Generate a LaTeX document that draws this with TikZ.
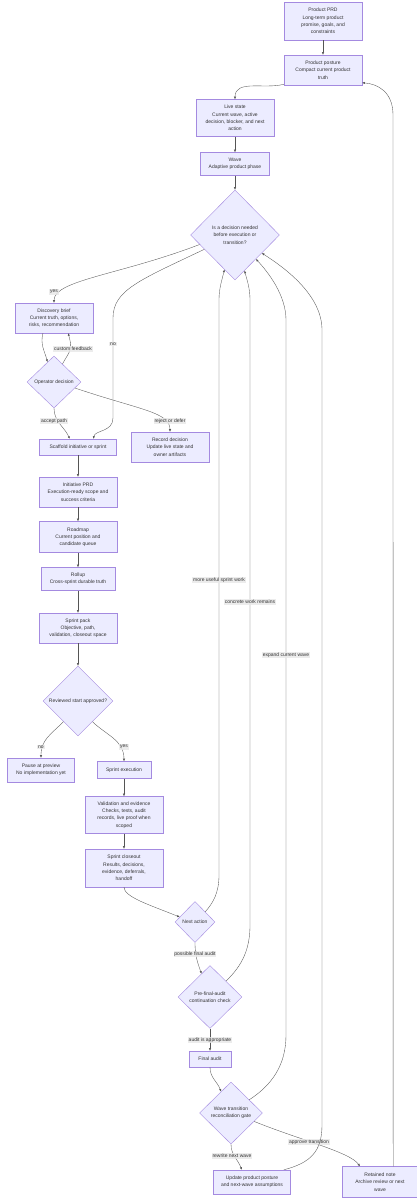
\documentclass[tikz,border=0pt]{standalone}
\usepackage{fontspec}
\setmainfont{Liberation Sans}
\usepackage{tikz}
\usetikzlibrary{arrows.meta,shapes.geometric}
\usepackage{xcolor}
\tikzset{>={Latex[length=2.6pt,width=2.2pt]}}
\definecolor{mmfill}{HTML}{ECECFF}
\definecolor{mmstroke}{HTML}{A48AE0}
\definecolor{mmline}{HTML}{555555}
\definecolor{mmtext}{HTML}{333333}
\definecolor{mmlbl}{HTML}{E8E8E8}

\begin{document}
\begin{tikzpicture}[x=1pt,y=1pt]
                % boxes in pt, y goes down the page as negative values
                \tikzstyle{box}=[rectangle, draw=mmstroke, fill=mmfill, line width=0.4pt, align=center, inner sep=0pt, text=mmtext, font=\fontsize{5pt}{7.3pt}\selectfont]
                \tikzstyle{gate}=[diamond, draw=mmstroke, fill=mmfill, line width=0.4pt, align=center, inner sep=0pt, text=mmtext, font=\fontsize{5pt}{7.3pt}\selectfont]
                \tikzstyle{lbl}=[fill=mmlbl, fill opacity=0.8, text opacity=1, inner sep=0.8pt, text=mmtext, font=\fontsize{5pt}{6pt}\selectfont]
                \tikzstyle{flow}=[->, draw=mmline, line width=0.35pt]
                \fill[white] (0,0) rectangle (417,-1200);
                \useasboundingbox (0,0) rectangle (417,-1200);
                \node[box, minimum width=78pt, minimum height=38pt] (PRD) at (323,-21) {Product PRD\\Long-term product\\promise, goals, and\\constraints};
                \node[box, minimum width=78pt, minimum height=30pt] (Post) at (323,-70) {Product posture\\Compact current product\\truth};
                \draw[flow] (PRD) -- (Post);
                \node[box, minimum width=78pt, minimum height=37pt] (Live) at (235,-118) {Live state\\Current wave, active\\decision, blocker, and next\\action};
                \draw[flow] (Post.200) to[out=195,in=90] (Live.north);
                \node[box, minimum width=69pt, minimum height=23pt] (Wave) at (235,-164) {Wave\\Adaptive product phase};
                \draw[flow] (Live) -- (Wave);
                \node[gate, minimum width=89pt, minimum height=90pt] (Dec) at (235,-235) {Is a decision needed\\before execution or\\transition?};
                \draw[flow] (Wave) -- (Dec);
                \node[box, minimum width=78pt, minimum height=30pt] (Disc) at (54,-318) {Discovery brief\\Current truth, options,\\risks, recommendation};
                \draw[flow] (Dec.195) .. controls (120,-275) and (54,-280) .. (Disc.north);
                \node[lbl] (Lyes) at (54,-292) {yes};
                \node[gate, minimum width=54pt, minimum height=52pt] (Op) at (54,-382) {Operator decision};
                \draw[flow] (Disc.234) to[out=255,in=105] (Op.108);
                \draw[flow] (Op.65) to[out=60,in=285,looseness=1.4] (Disc.313);
                \node[lbl] (Lcustom) at (73,-349) {custom feedback};
                \node[box, minimum width=77pt, minimum height=16pt] (Scaf) at (78,-447) {Scaffold initiative or sprint};
                \draw[flow] (Dec.205) .. controls (140,-280) and (113,-290) .. (113,-318) -- (113,-418) .. controls (113,-432) and (95,-430) .. (Scaf.28);
                \node[lbl] (Lno) at (113,-344) {no};
                \draw[flow] (Op.south) to[out=270,in=115] (Scaf.135);
                \node[lbl] (Laccept) at (54,-421) {accept path};
                \node[box, minimum width=78pt, minimum height=30pt] (Rec) at (170,-447) {Record decision\\Update live state and\\owner artifacts};
                \draw[flow] (Op.344) .. controls (140,-410) and (170,-412) .. (Rec.north);
                \node[lbl] (Lreject) at (170,-421) {reject or defer};
                \node[box, minimum width=78pt, minimum height=30pt] (Init) at (78,-492) {Initiative PRD\\Execution-ready scope and\\success criteria};
                \draw[flow] (Scaf) -- (Init);
                \node[box, minimum width=78pt, minimum height=31pt] (Road) at (78,-537) {Roadmap\\Current position and\\candidate queue};
                \draw[flow] (Init) -- (Road);
                \node[box, minimum width=74pt, minimum height=23pt] (Roll) at (78,-579) {Rollup\\Cross-sprint durable truth};
                \draw[flow] (Road) -- (Roll);
                \node[box, minimum width=78pt, minimum height=30pt] (Pack) at (78,-628) {Sprint pack\\Objective, path,\\validation, closeout space};
                \draw[flow] (Roll) -- (Pack);
                \node[gate, minimum width=70pt, minimum height=70pt] (Rev) at (78,-701) {Reviewed start approved?};
                \draw[flow] (Pack) -- (Rev);
                \node[box, minimum width=67pt, minimum height=24pt] (Pause) at (41,-770) {Pause at preview\\No implementation yet};
                \draw[flow] (Rev.235) .. controls (50,-735) and (41,-740) .. (Pause.north);
                \node[lbl] (Lno2) at (41,-747) {no};
                \node[box, minimum width=54pt, minimum height=17pt] (Exec) at (124,-770) {Sprint execution};
                \draw[flow] (Rev.305) .. controls (106,-735) and (124,-740) .. (Exec.north);
                \node[lbl] (Lyes2) at (124,-747) {yes};
                \node[box, minimum width=78pt, minimum height=37pt] (Val) at (124,-815) {Validation and evidence\\Checks, tests, audit\\records, live proof when\\scoped};
                \draw[flow] (Exec) -- (Val);
                \node[box, minimum width=78pt, minimum height=38pt] (Close) at (124,-868) {Sprint closeout\\Results, decisions,\\evidence, deferrals,\\handoff};
                \draw[flow] (Val) -- (Close);
                \node[gate, minimum width=40pt, minimum height=41pt] (Next) at (195,-922) {Next action};
                \draw[flow] (Close.south) .. controls (124,-897) and (150,-905) .. (Next.162);
                \draw[flow] (Next.45) .. controls (213,-903) and (219,-893) .. (219,-875) -- (219,-300) .. controls (219,-288) and (222,-280) .. (Dec.253);
                \node[lbl] (Lmore) at (219,-580) {more useful sprint work};
                \node[gate, minimum width=64pt, minimum height=63pt] (Pre) at (210,-997) {Pre-final-audit\\continuation check};
                \draw[flow] (Next.south) to[out=270,in=110] (Pre.110);
                \node[lbl] (Lposs) at (195,-954) {possible final audit};
                \draw[flow] (Pre.45) .. controls (243,-965) and (250,-948) .. (250,-925) -- (250,-300) .. controls (250,-288) and (247,-280) .. (Dec.285);
                \node[lbl] (Lconc) at (250,-602) {concrete work remains};
                \node[box, minimum width=42pt, minimum height=16pt] (Final) at (210,-1059) {Final audit};
                \draw[flow] (Pre) -- (Final);
                \node[lbl] (Laudit) at (210,-1040) {audit is appropriate};
                \node[gate, minimum width=63pt, minimum height=62pt] (Trans) at (231,-1113) {Wave transition\\reconciliation gate};
                \draw[flow] (Final.south) to[out=270,in=110] (Trans.115);
                \draw[flow] (Trans.36) .. controls (272,-1085) and (286,-1065) .. (286,-1035) -- (286,-320) .. controls (286,-295) and (268,-272) .. (Dec.311);
                \node[lbl] (Lexp) at (286,-655) {expand current wave};
                \node[box, minimum width=77pt, minimum height=24pt] (Upd) at (252,-1182) {Update product posture\\and next-wave assumptions};
                \draw[flow] (Trans.south) to[out=270,in=110] (Upd.130);
                \node[lbl] (Lrew) at (232,-1156) {rewrite next wave};
                \node[box, minimum width=75pt, minimum height=31pt] (Ret) at (380,-1182) {Retained note\\Archive review or next\\wave};
                \draw[flow] (Trans.340) .. controls (300,-1140) and (350,-1152) .. (Ret.142);
                \node[lbl] (Lappr) at (309,-1142) {approve transition};
                \draw[flow] (Upd.21) .. controls (310,-1163) and (322,-1152) .. (322,-1125) -- (322,-330) .. controls (322,-295) and (285,-268) .. (Dec.326);
                \draw[flow] (Ret.50) -- (393,-115) .. controls (393,-92) and (378,-84) .. (Post.342);
        \end{tikzpicture}
\end{document}
